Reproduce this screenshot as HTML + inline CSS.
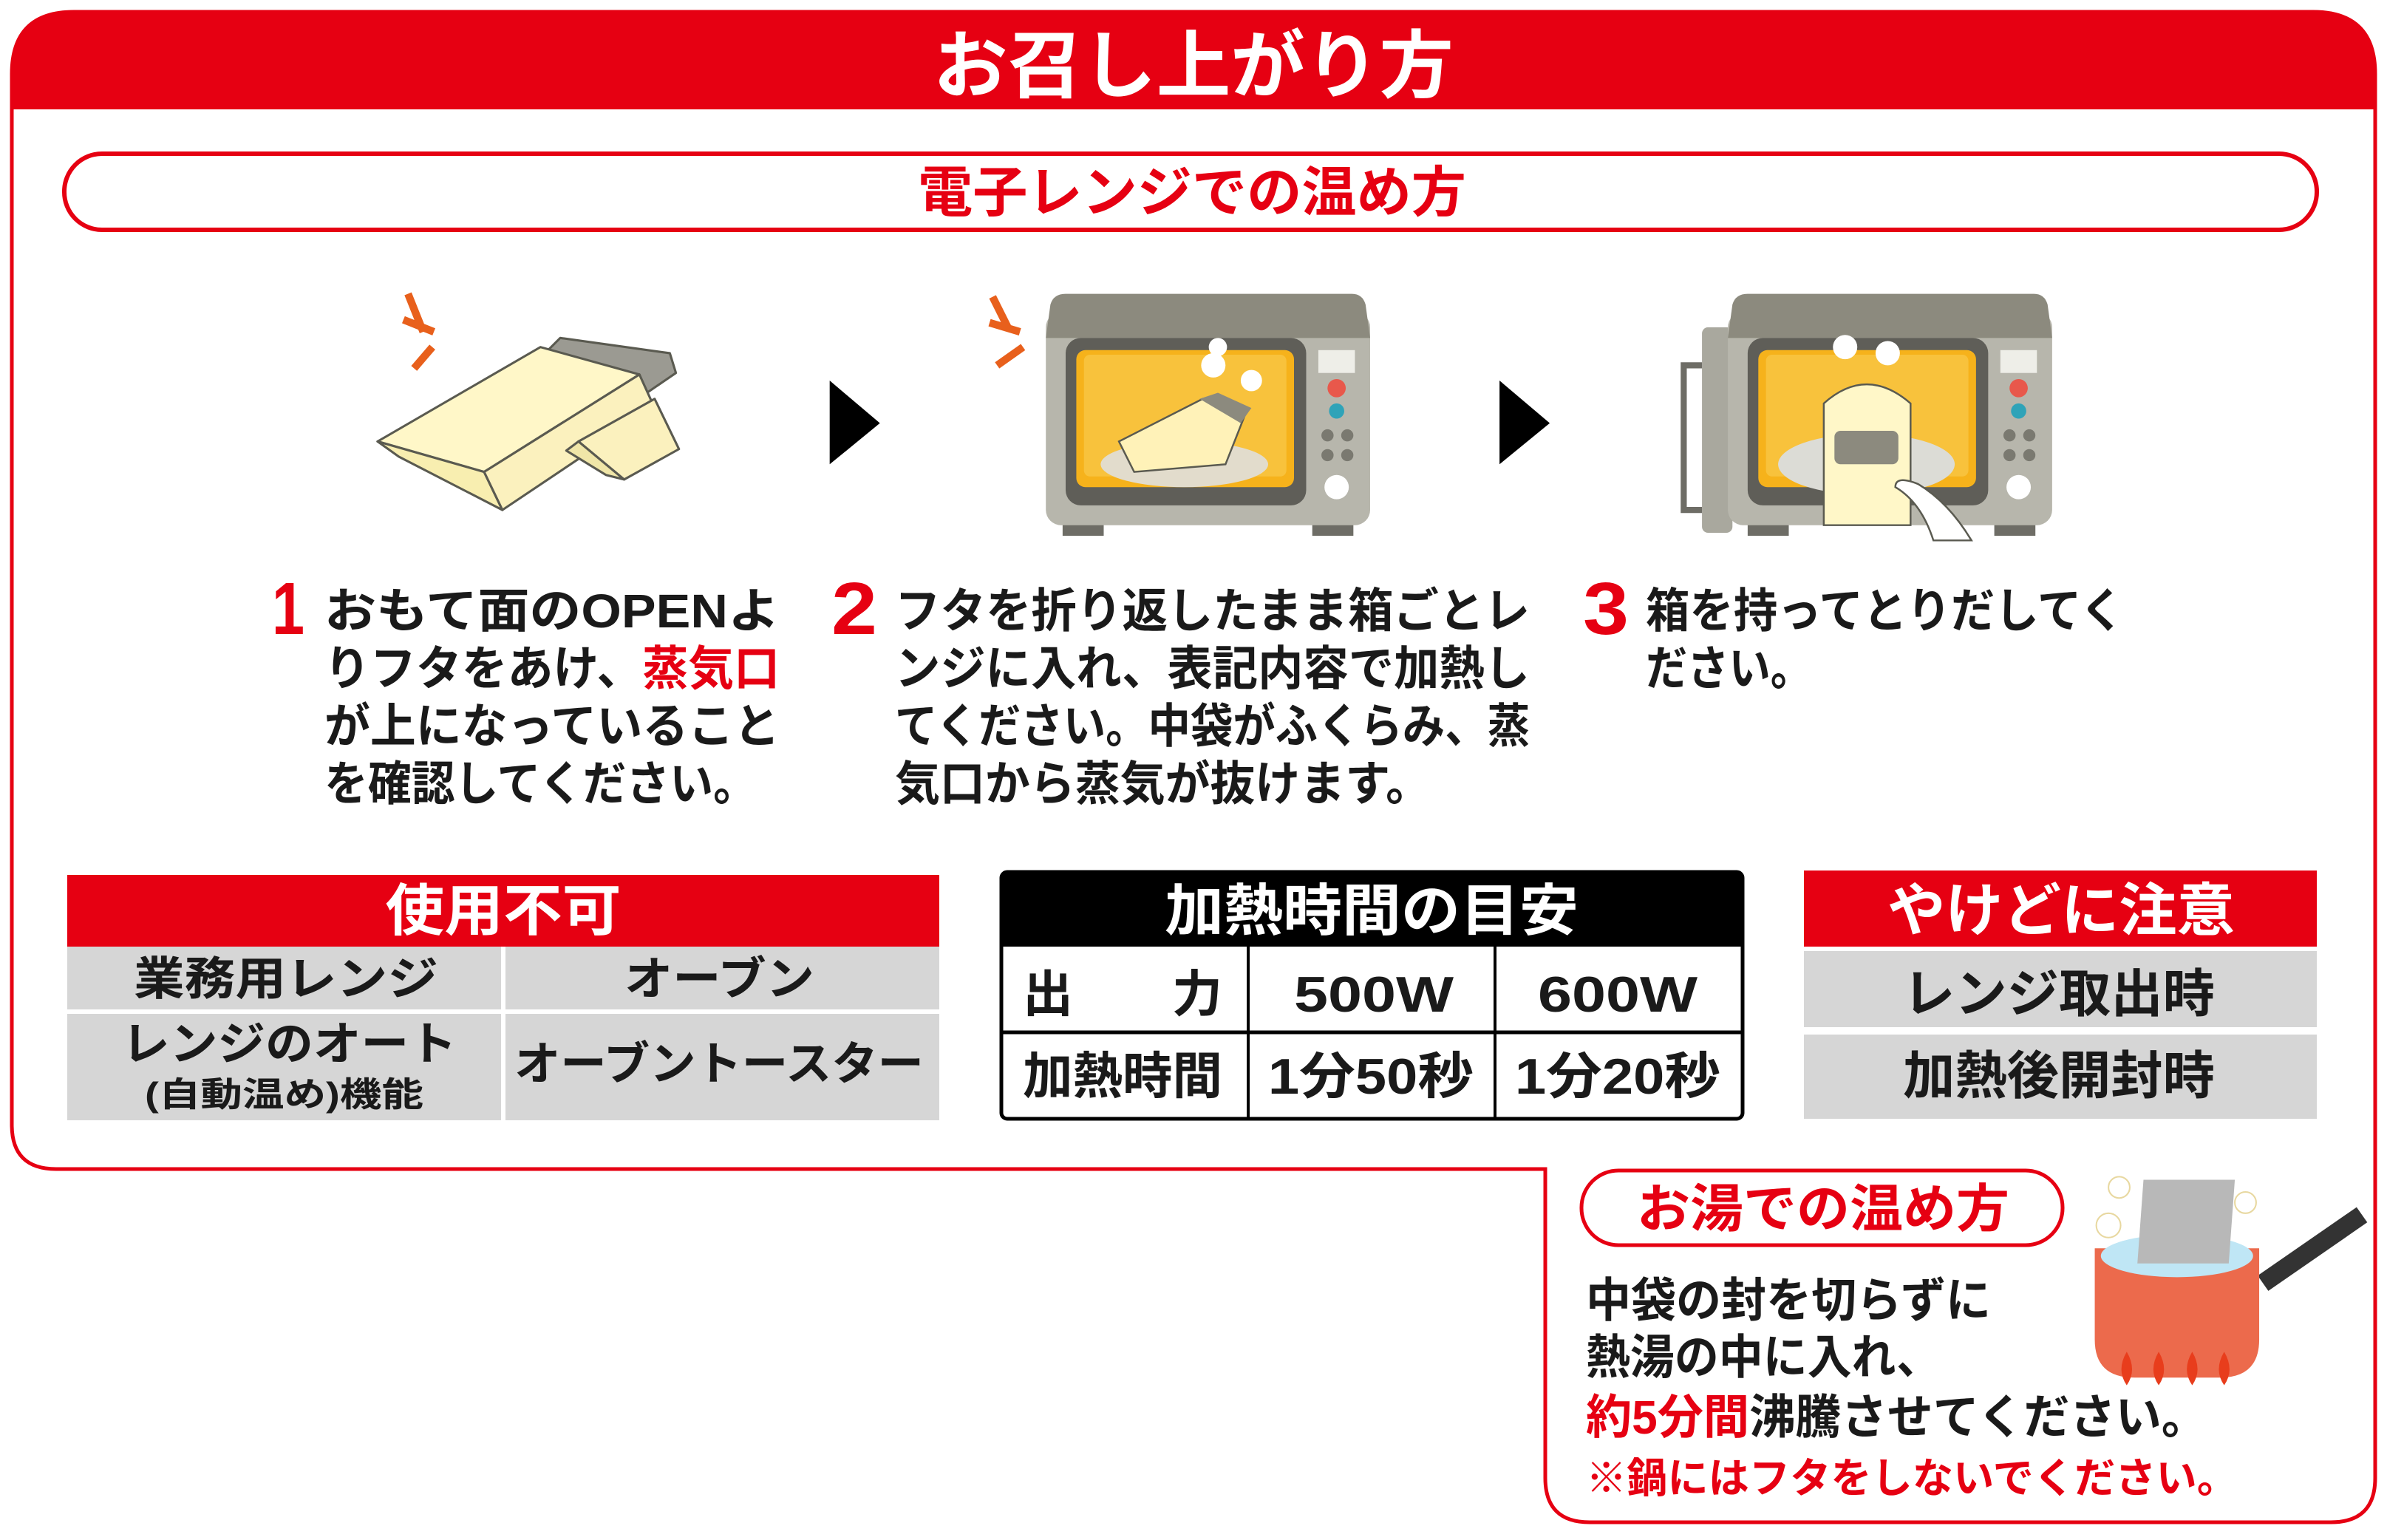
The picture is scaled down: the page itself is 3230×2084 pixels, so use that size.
<!DOCTYPE html>
<html><head><meta charset="utf-8"><style>
html,body{margin:0;padding:0;background:#fff}
svg{display:block}
text{font-family:"Liberation Sans","Noto Sans CJK JP",sans-serif;font-weight:bold}
</style></head><body>
<svg width="3230" height="2084" viewBox="0 0 3230 2084" xmlns="http://www.w3.org/2000/svg">
<!-- outer border -->
<path d="M16,100 Q16,16 100,16 L3130,16 Q3214,16 3214,100 L3214,2000 Q3214,2060 3154,2060 L2151,2060 Q2091,2060 2091,2000 L2091,1582 L76,1582 Q16,1582 16,1522 Z" fill="#fff" stroke="#e60012" stroke-width="5"/>
<path d="M16,100 Q16,16 100,16 L3130,16 Q3214,16 3214,100 L3214,148 L16,148 Z" fill="#e60012"/>
<text x="1615" y="124" font-size="100" fill="#fff" text-anchor="middle" textLength="704" lengthAdjust="spacingAndGlyphs">お召し上がり方</text>
<!-- pill -->
<rect x="87" y="208" width="3048" height="103" rx="51" fill="#fff" stroke="#e60012" stroke-width="6"/>
<text x="1613" y="286" font-size="74" fill="#e60012" text-anchor="middle" textLength="742" lengthAdjust="spacingAndGlyphs">電子レンジでの温め方</text>

<!-- illustrations in thumb coords -->
<g transform="scale(2.06)">
 <!-- box 1 -->
 <g stroke="#5a5a50" stroke-width="1.5" stroke-linejoin="round">
  <path d="M268,193 L278,218 M265,210 L285,218 M272,242 L284,228" stroke="#e8601c" stroke-width="5"/>
  <path d="M355,235 L368,222 L440,232 L444,245 L425,258 L420,246 L362,240 Z" fill="#9b9a92"/>
  <path d="M248,290 L355,228 L420,246 L318,310 Z" fill="#fff7c8"/>
  <path d="M248,290 L318,310 L330,335 L262,300 Z" fill="#f8eeb0"/>
  <path d="M318,310 L420,246 L430,268 L330,335 Z" fill="#fbf1be"/>
  <path d="M380,290 L430,262 L446,295 L410,315 Z" fill="#fbf1be"/>
  <path d="M380,290 L410,315 L398,312 L372,296 Z" fill="#f0e6a8"/>
 </g>
 <!-- arrows -->
 <path d="M545,250 L578,278 L545,305 Z" fill="#000"/>
 <path d="M985,250 L1018,278 L985,305 Z" fill="#000"/>
 <!-- microwave 2 -->
 <g>
  <path d="M652,195 L662,215 M650,212 L670,218 M655,240 L672,228" stroke="#e8601c" stroke-width="5"/>
  <rect x="698" y="338" width="27" height="14" fill="#6e6d66"/>
  <rect x="862" y="338" width="27" height="14" fill="#6e6d66"/>
  <rect x="687" y="205" width="213" height="140" rx="10" fill="#b7b6ac"/>
  <path d="M700,193 L888,193 Q895,193 897,200 L900,222 L687,222 L690,200 Q692,193 700,193 Z" fill="#8c8a7e"/>
  <rect x="700" y="222" width="158" height="110" rx="10" fill="#5f5e58"/>
  <rect x="707" y="230" width="143" height="90" rx="6" fill="#f6b21b"/>
  <rect x="712" y="233" width="133" height="80" rx="4" fill="#f8c23c"/>
  <ellipse cx="778" cy="305" rx="55" ry="15" fill="#e2dccc"/>
  <path d="M735,290 L790,262 L818,272 L805,305 L745,310 Z" fill="#fff2b8" stroke="#5a5a50" stroke-width="1.2"/>
  <path d="M788,262 L800,258 L822,268 L815,278 Z" fill="#8c8a7e"/>
  <circle cx="797" cy="240" r="8" fill="#fff"/><circle cx="822" cy="250" r="7" fill="#fff"/><circle cx="800" cy="228" r="6" fill="#fff"/>
  <rect x="866" y="230" width="24" height="15" fill="#eeeee8"/>
  <circle cx="878" cy="255" r="6" fill="#e8584b"/>
  <circle cx="878" cy="270" r="5" fill="#2fa3b8"/>
  <circle cx="872" cy="286" r="4" fill="#7a7970"/><circle cx="885" cy="286" r="4" fill="#7a7970"/>
  <circle cx="872" cy="299" r="4" fill="#7a7970"/><circle cx="885" cy="299" r="4" fill="#7a7970"/>
  <circle cx="878" cy="320" r="8" fill="#fff"/>
 </g>
 <!-- microwave 3 -->
 <g>
  <rect x="1148" y="338" width="27" height="14" fill="#6e6d66"/>
  <rect x="1310" y="338" width="27" height="14" fill="#6e6d66"/>
  <rect x="1118" y="215" width="20" height="135" rx="4" fill="#a9a89e"/>
  <path d="M1118,240 L1106,240 L1106,335 L1118,335" fill="none" stroke="#6e6d66" stroke-width="4"/>
  <rect x="1135" y="205" width="213" height="140" rx="10" fill="#b7b6ac"/>
  <path d="M1148,193 L1336,193 Q1343,193 1345,200 L1348,222 L1135,222 L1138,200 Q1140,193 1148,193 Z" fill="#8c8a7e"/>
  <rect x="1148" y="222" width="158" height="110" rx="10" fill="#5f5e58"/>
  <rect x="1155" y="230" width="143" height="90" rx="6" fill="#f6b21b"/>
  <rect x="1160" y="233" width="133" height="80" rx="4" fill="#f8c23c"/>
  <ellipse cx="1226" cy="305" rx="58" ry="20" fill="#dcdcd6"/>
  <path d="M1198,265 Q1226,240 1255,265 L1255,345 L1198,345 Z" fill="#fff7c8" stroke="#5a5a50" stroke-width="1.2"/>
  <rect x="1205" y="283" width="42" height="22" rx="4" fill="#8c8a7e"/>
  <circle cx="1212" cy="228" r="8" fill="#fff"/><circle cx="1240" cy="232" r="8" fill="#fff"/>
  <path d="M1245,320 Q1262,330 1270,355 L1295,355 Q1280,330 1260,318 Q1245,312 1245,320 Z" fill="#fff" stroke="#5a5a50" stroke-width="1.2"/>
  <rect x="1314" y="230" width="24" height="15" fill="#eeeee8"/>
  <circle cx="1326" cy="255" r="6" fill="#e8584b"/>
  <circle cx="1326" cy="270" r="5" fill="#2fa3b8"/>
  <circle cx="1320" cy="286" r="4" fill="#7a7970"/><circle cx="1333" cy="286" r="4" fill="#7a7970"/>
  <circle cx="1320" cy="299" r="4" fill="#7a7970"/><circle cx="1333" cy="299" r="4" fill="#7a7970"/>
  <circle cx="1326" cy="320" r="8" fill="#fff"/>
 </g>
 <!-- pot -->
 <g>
  <path d="M1483,838 L1548,793 L1555,803 L1490,848 Z" fill="#333"/>
  <path d="M1376,820 L1484,820 L1484,880 Q1484,905 1458,905 L1402,905 Q1376,905 1376,880 Z" fill="#ec6a4c"/>
  <ellipse cx="1430" cy="825" rx="50" ry="14" fill="#bfe6f5"/>
  <path d="M1408,775 L1468,775 L1464,830 L1404,830 Z" fill="#b8b8b8"/>
  <circle cx="1392" cy="780" r="7" fill="#fff" stroke="#e8d8a0"/><circle cx="1385" cy="805" r="8" fill="#fff" stroke="#e8d8a0"/><circle cx="1475" cy="790" r="7" fill="#fff" stroke="#e8d8a0"/>
  <g fill="#e83d1c"><path d="M1397,910 Q1390,900 1397,888 Q1404,900 1397,910Z"/><path d="M1418,910 Q1411,900 1418,888 Q1425,900 1418,910Z"/><path d="M1440,910 Q1433,900 1440,888 Q1447,900 1440,910Z"/><path d="M1461,910 Q1454,900 1461,888 Q1468,900 1461,910Z"/></g>
 </g>
</g>

<!-- step texts -->
<g font-size="64" fill="#1a1a1a">
 <text x="368" y="858" font-size="100" fill="#e60012" textLength="44" lengthAdjust="spacingAndGlyphs">1</text>
 <text x="439" y="849" textLength="616" lengthAdjust="spacingAndGlyphs">おもて面のOPENよ</text>
 <text x="439" y="927" textLength="616" lengthAdjust="spacingAndGlyphs">りフタをあけ、<tspan fill="#e60012">蒸気口</tspan></text>
 <text x="439" y="1005" textLength="616" lengthAdjust="spacingAndGlyphs">が上になっていること</text>
 <text x="439" y="1083" textLength="585" lengthAdjust="spacingAndGlyphs">を確認してください。</text>
 <text x="1125" y="858" font-size="100" fill="#e60012" textLength="62" lengthAdjust="spacingAndGlyphs">2</text>
 <text x="1211" y="849" textLength="859" lengthAdjust="spacingAndGlyphs">フタを折り返したまま箱ごとレ</text>
 <text x="1211" y="927" textLength="859" lengthAdjust="spacingAndGlyphs">ンジに入れ、表記内容で加熱し</text>
 <text x="1211" y="1005" textLength="859" lengthAdjust="spacingAndGlyphs">てください。中袋がふくらみ、蒸</text>
 <text x="1211" y="1083" textLength="725" lengthAdjust="spacingAndGlyphs">気口から蒸気が抜けます。</text>
 <text x="2142" y="858" font-size="100" fill="#e60012" textLength="62" lengthAdjust="spacingAndGlyphs">3</text>
 <text x="2227" y="849" textLength="647" lengthAdjust="spacingAndGlyphs">箱を持ってとりだしてく</text>
 <text x="2227" y="927" textLength="225" lengthAdjust="spacingAndGlyphs">ださい。</text>
</g>

<!-- table 1 -->
<rect x="91" y="1184" width="1180" height="97" fill="#e60012"/>
<rect x="91" y="1281" width="587" height="85" fill="#d6d6d6"/>
<rect x="684" y="1281" width="587" height="85" fill="#d6d6d6"/>
<rect x="91" y="1372" width="587" height="144" fill="#d6d6d6"/>
<rect x="684" y="1372" width="587" height="144" fill="#d6d6d6"/>
<g fill="#1a1a1a" font-size="62">
 <text x="681" y="1259" fill="#fff" font-size="76" text-anchor="middle" textLength="319" lengthAdjust="spacingAndGlyphs">使用不可</text>
 <text x="181" y="1346" textLength="412" lengthAdjust="spacingAndGlyphs">業務用レンジ</text>
 <text x="845" y="1346" textLength="257" lengthAdjust="spacingAndGlyphs">オーブン</text>
 <text x="165" y="1434" textLength="453" lengthAdjust="spacingAndGlyphs">レンジのオート</text>
 <text x="196" y="1497" font-size="46" textLength="377" lengthAdjust="spacingAndGlyphs">(自動温め)機能</text>
 <text x="696" y="1461" textLength="554" lengthAdjust="spacingAndGlyphs">オーブントースター</text>
</g>

<!-- table 2 -->
<rect x="1355" y="1180" width="1003" height="334" rx="8" fill="#fff" stroke="#000" stroke-width="5"/>
<path d="M1355,1281 L1355,1188 Q1355,1180 1363,1180 L2350,1180 Q2358,1180 2358,1188 L2358,1281 Z" fill="#000"/>
<line x1="1355" y1="1397" x2="2358" y2="1397" stroke="#000" stroke-width="5"/>
<line x1="1689" y1="1281" x2="1689" y2="1514" stroke="#000" stroke-width="4"/>
<line x1="2023" y1="1281" x2="2023" y2="1514" stroke="#000" stroke-width="4"/>
<g fill="#1a1a1a" font-size="68">
 <text x="1856" y="1259" fill="#fff" font-size="76" text-anchor="middle" textLength="560" lengthAdjust="spacingAndGlyphs">加熱時間の目安</text>
 <text x="1384" y="1369">出</text>
 <text x="1586" y="1369">力</text>
 <text x="1751" y="1369" textLength="216" lengthAdjust="spacingAndGlyphs">500W</text>
 <text x="2081" y="1369" textLength="216" lengthAdjust="spacingAndGlyphs">600W</text>
 <text x="1384" y="1480" textLength="270" lengthAdjust="spacingAndGlyphs">加熱時間</text>
 <text x="1716" y="1480" textLength="278" lengthAdjust="spacingAndGlyphs">1分50秒</text>
 <text x="2050" y="1480" textLength="278" lengthAdjust="spacingAndGlyphs">1分20秒</text>
</g>

<!-- table 3 -->
<rect x="2441" y="1178" width="694" height="103" fill="#e60012"/>
<rect x="2441" y="1287" width="694" height="103" fill="#d6d6d6"/>
<rect x="2441" y="1400" width="694" height="114" fill="#d6d6d6"/>
<g fill="#1a1a1a" font-size="70">
 <text x="2789" y="1259" fill="#fff" font-size="78" text-anchor="middle" textLength="470" lengthAdjust="spacingAndGlyphs">やけどに注意</text>
 <text x="2786" y="1369" text-anchor="middle" textLength="422" lengthAdjust="spacingAndGlyphs">レンジ取出時</text>
 <text x="2786" y="1480" text-anchor="middle" textLength="422" lengthAdjust="spacingAndGlyphs">加熱後開封時</text>
</g>

<!-- bottom section -->
<rect x="2140" y="1584" width="651" height="101" rx="50" fill="#fff" stroke="#e60012" stroke-width="5"/>
<text x="2467" y="1660" font-size="70" fill="#e60012" text-anchor="middle" textLength="504" lengthAdjust="spacingAndGlyphs">お湯での温め方</text>
<g font-size="64" fill="#1a1a1a">
 <text x="2146" y="1782" textLength="548" lengthAdjust="spacingAndGlyphs">中袋の封を切らずに</text>
 <text x="2146" y="1859" textLength="480" lengthAdjust="spacingAndGlyphs">熱湯の中に入れ、</text>
 <text x="2146" y="1940" textLength="841" lengthAdjust="spacingAndGlyphs"><tspan fill="#e60012">約5分間</tspan>沸騰させてください。</text>
 <text x="2146" y="2020" font-size="56" fill="#e60012" textLength="882" lengthAdjust="spacingAndGlyphs">※鍋にはフタをしないでください。</text>
</g>
</svg>
</body></html>
